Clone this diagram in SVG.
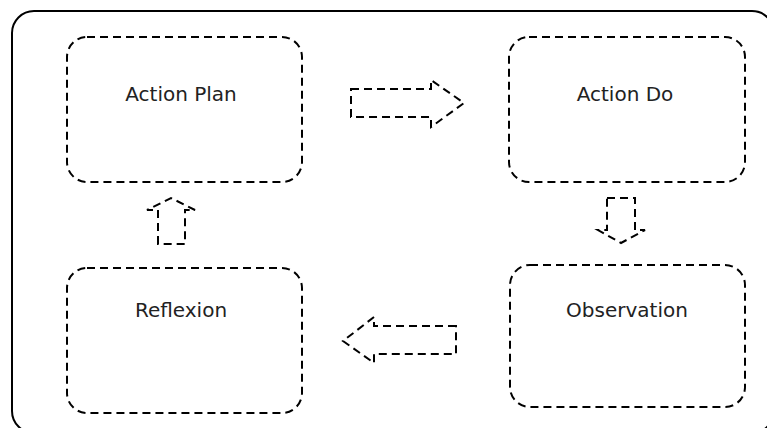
<svg xmlns="http://www.w3.org/2000/svg" width="767" height="428" viewBox="0 0 767 428">
<style>
.frame{fill:none;stroke:#000;stroke-width:2}
.box{fill:none;stroke:#000;stroke-width:2;stroke-dasharray:8 5}
.arrow{fill:none;stroke:#000;stroke-width:2;stroke-dasharray:8 5}
.label{font-family:"DejaVu Sans",Verdana,sans-serif;font-size:20px;fill:#222;text-anchor:middle}
</style>
<rect fill="#fff" x="0" y="0" width="767" height="428"/>
<rect class="frame" x="12" y="11" width="762" height="422" rx="22" ry="22"/>
<g id="action-plan">
<rect class="box" x="67" y="37" width="235" height="145" rx="20" ry="20"/>
<text class="label" x="181" y="101">Action Plan</text>
</g>
<g id="action-do">
<rect class="box" x="509" y="37" width="236" height="145" rx="20" ry="20"/>
<text class="label" x="625" y="101">Action Do</text>
</g>
<g id="observation">
<rect class="box" x="510" y="265" width="235" height="142" rx="20" ry="20"/>
<text class="label" x="627" y="317">Observation</text>
</g>
<g id="reflexion">
<rect class="box" x="67" y="268" width="235" height="145" rx="20" ry="20"/>
<text class="label" x="181" y="317">Reflexion</text>
</g>
<g id="connectors">
<polygon class="arrow" points="351,89 431,89 431,80 464,103 431,127 431,117 351,117"/>
<polygon class="arrow" points="607,198 635,198 635,230 645,230 621,243 598,230 607,230"/>
<polygon class="arrow" points="456,326 374,326 374,317 343,341 374,363 374,354 456,354"/>
<polygon class="arrow" points="158,244 158,210 147,210 171,198 195,210 185,210 185,244"/>
</g>
</svg>
